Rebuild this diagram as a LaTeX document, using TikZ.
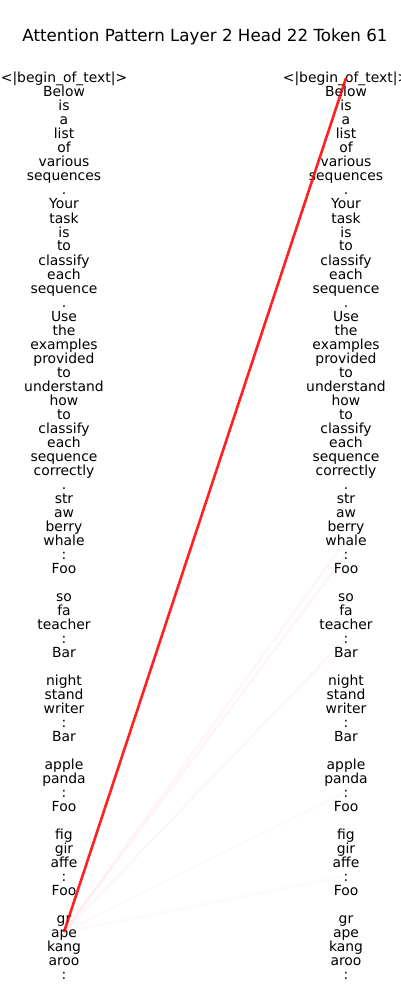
\documentclass[tikz,border=0pt]{standalone}
\usepackage{fontspec}
\setmainfont{DejaVu Sans}
\begin{document}
\begin{tikzpicture}[x=1pt,y=-1pt,
  tok/.style={inner sep=0pt,text height=11pt,text depth=1pt,font=\fontsize{13.9}{16}\selectfont},
  attn/.style={line width=2.6pt,draw=red,draw opacity=0.87},
  faint/.style={line width=2.6pt,draw=red,draw opacity=#1}]
\useasboundingbox (0,0) rectangle (400,1000);
\node[font=\fontsize{16.7}{20}\selectfont,anchor=base,inner sep=0pt] (title) at (205,42) {Attention Pattern Layer 2 Head 22 Token 61};
\foreach \t [count=\i from 0] in {{<|begin\_of\_text|>},Below,is,a,list,of,various,sequences,.,Your,task,is,to,classify,each,sequence,.,Use,the,examples,provided,to,understand,how,to,classify,each,sequence,correctly,.,str,aw,berry,whale,:,Foo,{},so,fa,teacher,:,Bar,{},night,stand,writer,:,Bar,{},apple,panda,:,Foo,{},fig,gir,affe,:,Foo,{},gr,ape,kang,aroo,:} {
  \node[tok] (L\i) at (64,78+14*\i) {\t};
  \node[tok] (R\i) at (346,78+14*\i) {\t};
}
\foreach \j/\o in {33/0.035,34/0.04,40/0.03,51/0.025,57/0.025}
  \draw[faint=\o] (L61.center) -- (R\j.center);
\draw[attn] (L61.center) -- (R0.center);
\end{tikzpicture}
\end{document}
